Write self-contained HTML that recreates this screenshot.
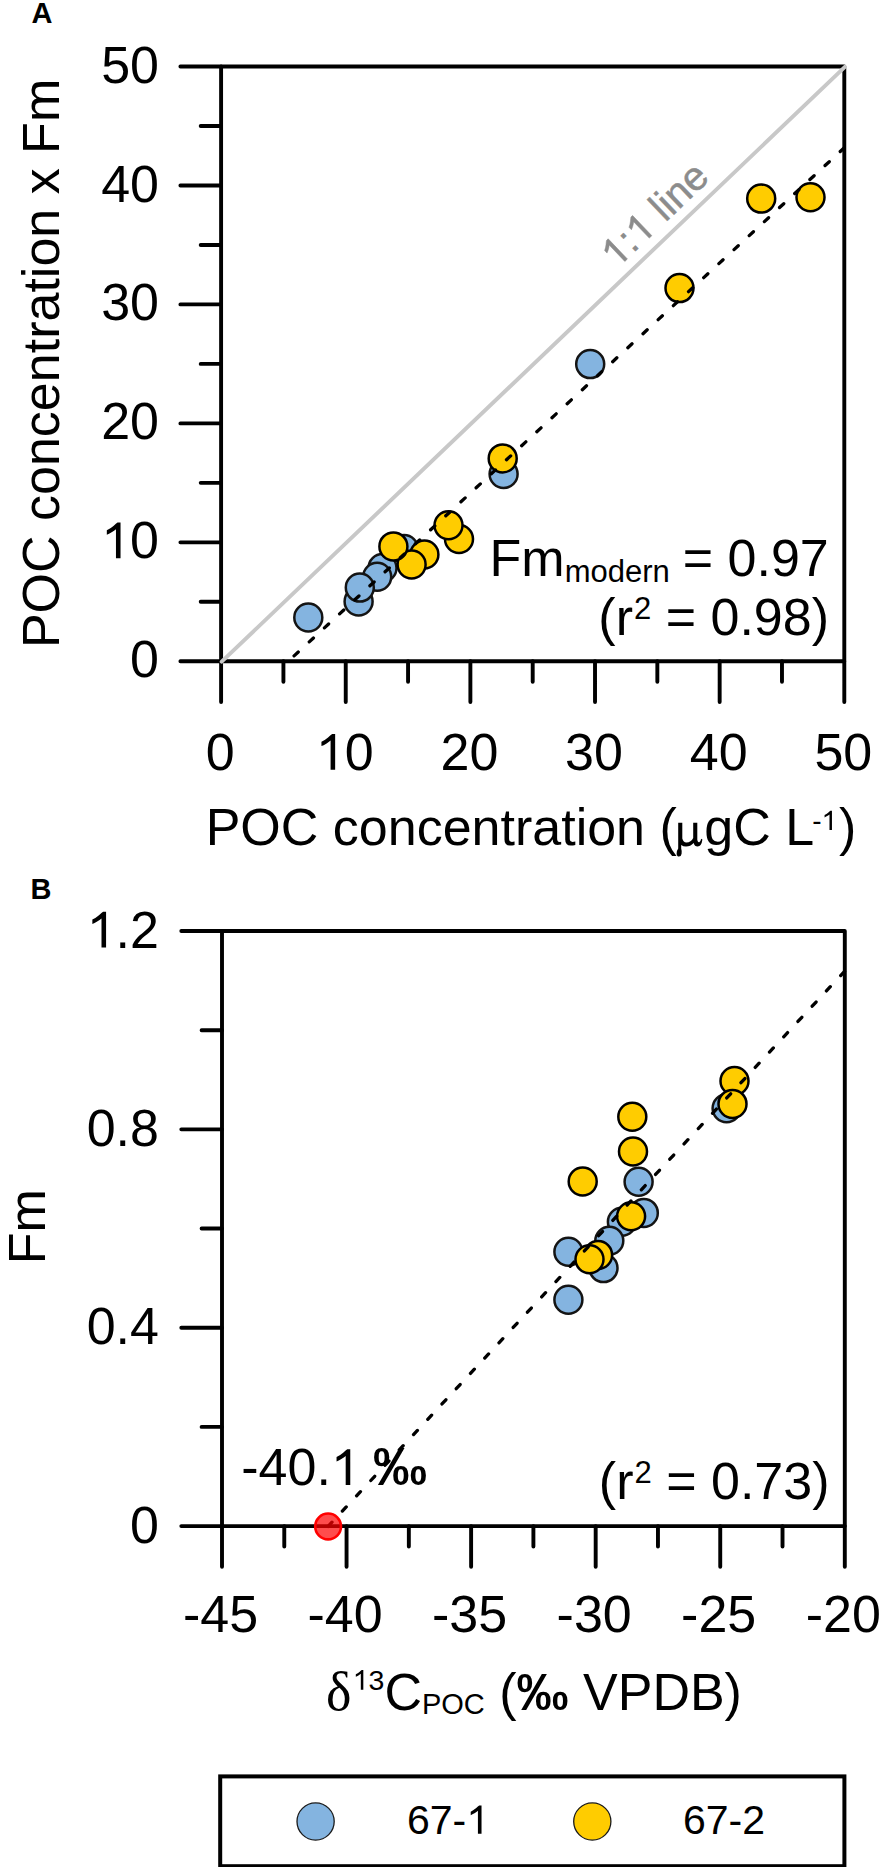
<!DOCTYPE html>
<html><head><meta charset="utf-8"><style>
html,body{margin:0;padding:0;background:#fff;}
body{width:880px;height:1867px;overflow:hidden;}
svg{display:block;}
</style></head><body>
<svg width="880" height="1867" viewBox="0 0 880 1867">
<rect width="880" height="1867" fill="#fff"/>
<path d="M180.40 661.30H221.10 M200.70 601.82H221.10 M180.40 542.34H221.10 M200.70 482.86H221.10 M180.40 423.38H221.10 M200.70 363.90H221.10 M180.40 304.42H221.10 M200.70 244.94H221.10 M180.40 185.46H221.10 M200.70 125.98H221.10 M180.40 66.50H221.10 M221.10 661.30V702.00 M283.42 661.30V681.70 M345.74 661.30V702.00 M408.06 661.30V681.70 M470.38 661.30V702.00 M532.70 661.30V681.70 M595.02 661.30V702.00 M657.34 661.30V681.70 M719.66 661.30V702.00 M781.98 661.30V681.70 M844.30 661.30V702.00" stroke="#000" stroke-width="3.9" stroke-linecap="round" fill="none"/>
<path d="M221.1 661.3V66.5H844.3V661.3Z" stroke="#000" stroke-width="3.9" stroke-linejoin="round" fill="none"/>
<line x1="221.7" y1="661.6999999999999" x2="844.9" y2="66.9" stroke="#c8c8c8" stroke-width="3.9" stroke-linecap="round"/>
<circle cx="590.2" cy="364.1" r="14.0" fill="#84b4e0" stroke="#141414" stroke-width="2.5"/>
<circle cx="503.6" cy="474" r="14.0" fill="#84b4e0" stroke="#141414" stroke-width="2.5"/>
<circle cx="404" cy="549" r="14.0" fill="#84b4e0" stroke="#141414" stroke-width="2.5"/>
<circle cx="382.5" cy="568" r="14.0" fill="#84b4e0" stroke="#141414" stroke-width="2.5"/>
<circle cx="377.2" cy="576.8" r="14.0" fill="#84b4e0" stroke="#141414" stroke-width="2.5"/>
<circle cx="358.6" cy="601.4" r="14.0" fill="#84b4e0" stroke="#141414" stroke-width="2.5"/>
<circle cx="359.8" cy="587.6" r="14.0" fill="#84b4e0" stroke="#141414" stroke-width="2.5"/>
<circle cx="308.3" cy="617.5" r="14.0" fill="#84b4e0" stroke="#141414" stroke-width="2.5"/>
<circle cx="810.5" cy="197.2" r="14.0" fill="#ffcc00" stroke="#000" stroke-width="2.5"/>
<circle cx="761.2" cy="198.6" r="14.0" fill="#ffcc00" stroke="#000" stroke-width="2.5"/>
<circle cx="679.5" cy="288.1" r="14.0" fill="#ffcc00" stroke="#000" stroke-width="2.5"/>
<circle cx="502.7" cy="458.4" r="14.0" fill="#ffcc00" stroke="#000" stroke-width="2.5"/>
<circle cx="459" cy="539" r="14.0" fill="#ffcc00" stroke="#000" stroke-width="2.5"/>
<circle cx="448.5" cy="525.3" r="14.0" fill="#ffcc00" stroke="#000" stroke-width="2.5"/>
<circle cx="424.4" cy="554.5" r="14.0" fill="#ffcc00" stroke="#000" stroke-width="2.5"/>
<circle cx="411.6" cy="564.5" r="14.0" fill="#ffcc00" stroke="#000" stroke-width="2.5"/>
<circle cx="393.4" cy="546.4" r="14.0" fill="#ffcc00" stroke="#000" stroke-width="2.5"/>
<line x1="288.2" y1="661.3" x2="844.3" y2="147.8" stroke="#000" stroke-width="3.3" stroke-dasharray="5.7 14.95" stroke-dashoffset="-8" stroke-linecap="round"/>
<text x="159" y="677.3" font-size="52" text-anchor="end" font-family="Liberation Sans, sans-serif">0</text>
<text x="159" y="558.3" font-size="52" text-anchor="end" font-family="Liberation Sans, sans-serif"> 0</text>
<text x="159" y="439.4" font-size="52" text-anchor="end" font-family="Liberation Sans, sans-serif">20</text>
<text x="159" y="320.4" font-size="52" text-anchor="end" font-family="Liberation Sans, sans-serif">30</text>
<text x="159" y="201.5" font-size="52" text-anchor="end" font-family="Liberation Sans, sans-serif">40</text>
<text x="159" y="82.5" font-size="52" text-anchor="end" font-family="Liberation Sans, sans-serif">50</text>
<text x="220.1" y="769.7" font-size="52" text-anchor="middle" font-family="Liberation Sans, sans-serif">0</text>
<text x="344.7" y="769.7" font-size="52" text-anchor="middle" font-family="Liberation Sans, sans-serif"> 0</text>
<text x="469.4" y="769.7" font-size="52" text-anchor="middle" font-family="Liberation Sans, sans-serif">20</text>
<text x="594.0" y="769.7" font-size="52" text-anchor="middle" font-family="Liberation Sans, sans-serif">30</text>
<text x="718.7" y="769.7" font-size="52" text-anchor="middle" font-family="Liberation Sans, sans-serif">40</text>
<text x="843.3" y="769.7" font-size="52" text-anchor="middle" font-family="Liberation Sans, sans-serif">50</text>
<text x="205.7" y="845.1" font-size="52" font-family="Liberation Sans, sans-serif">POC concentration (<tspan dx="27.55">gC L</tspan><tspan font-size="28" dy="-15" dx="-2">- </tspan><tspan dy="15" dx="2">)</tspan></text>
<path d="M678.2 822.7L682.3 822.7L682.3 838.5Q683.5 842.8 686.5 842.6Q691 842.3 693.2 838L693.2 822.7L697.3 822.7L697.3 840Q698 842.8 699.3 842.2Q700.6 841.5 701.2 838.8L702.4 839.6Q701.5 846.5 697.6 846.6Q694.6 846.6 693.6 843Q690.5 846.6 686 846.6Q683.3 846.6 681.2 845L681.2 848.5Q682 851 681.6 853.8Q681.2 856.6 679 856.6Q676.8 856.6 676.6 853.8Q676.4 851 678.2 848.5Z" fill="#000"/>
<text transform="translate(58.6 363.45) rotate(-90)" font-size="52" text-anchor="middle" font-family="Liberation Sans, sans-serif">POC concentration x Fm</text>
<text x="31.5" y="23.3" font-size="29" font-weight="bold" font-family="Liberation Sans, sans-serif">A</text>
<text transform="translate(616.5 269.4) rotate(-43.66)" font-size="40.5" fill="#8c8c8c" stroke="#8c8c8c" stroke-width="0.5" font-family="Liberation Sans, sans-serif"> :  line</text>
<text x="489.6" y="575.6" font-size="52" font-family="Liberation Sans, sans-serif">Fm<tspan font-size="31" dy="6">modern</tspan><tspan dy="-6" dx="-1.5"> = 0.97</tspan></text>
<text x="829" y="635.3" font-size="52" text-anchor="end" font-family="Liberation Sans, sans-serif">(r<tspan font-size="31" dy="-16" dx="1">2</tspan><tspan dy="16"> = 0.98)</tspan></text>
<path d="M181.30 1526.10H222.00 M201.60 1426.92H222.00 M181.30 1327.73H222.00 M201.60 1228.55H222.00 M181.30 1129.37H222.00 M201.60 1030.18H222.00 M181.30 931.00H222.00 M222.00 1526.10V1566.80 M284.28 1526.10V1546.50 M346.56 1526.10V1566.80 M408.84 1526.10V1546.50 M471.12 1526.10V1566.80 M533.40 1526.10V1546.50 M595.68 1526.10V1566.80 M657.96 1526.10V1546.50 M720.24 1526.10V1566.80 M782.52 1526.10V1546.50 M844.80 1526.10V1566.80" stroke="#000" stroke-width="3.9" stroke-linecap="round" fill="none"/>
<path d="M222.0 1526.1V931.0H844.8V1526.1Z" stroke="#000" stroke-width="3.9" stroke-linejoin="round" fill="none"/>
<circle cx="726.6" cy="1108.3" r="14.0" fill="#84b4e0" stroke="#141414" stroke-width="2.5"/>
<circle cx="643.8" cy="1212.9" r="14.0" fill="#84b4e0" stroke="#141414" stroke-width="2.5"/>
<circle cx="621.9" cy="1221.7" r="14.0" fill="#84b4e0" stroke="#141414" stroke-width="2.5"/>
<circle cx="638.6" cy="1181.8" r="14.0" fill="#84b4e0" stroke="#141414" stroke-width="2.5"/>
<circle cx="609.3" cy="1240.8" r="14.0" fill="#84b4e0" stroke="#141414" stroke-width="2.5"/>
<circle cx="568.4" cy="1251.7" r="14.0" fill="#84b4e0" stroke="#141414" stroke-width="2.5"/>
<circle cx="603.5" cy="1268.1" r="14.0" fill="#84b4e0" stroke="#141414" stroke-width="2.5"/>
<circle cx="568.4" cy="1299.8" r="14.0" fill="#84b4e0" stroke="#141414" stroke-width="2.5"/>
<circle cx="734.5" cy="1081" r="14.0" fill="#ffcc00" stroke="#000" stroke-width="2.5"/>
<circle cx="732.5" cy="1103.9" r="14.0" fill="#ffcc00" stroke="#000" stroke-width="2.5"/>
<circle cx="632.3" cy="1116.7" r="14.0" fill="#ffcc00" stroke="#000" stroke-width="2.5"/>
<circle cx="633" cy="1151.5" r="14.0" fill="#ffcc00" stroke="#000" stroke-width="2.5"/>
<circle cx="582.7" cy="1181.5" r="14.0" fill="#ffcc00" stroke="#000" stroke-width="2.5"/>
<circle cx="631.1" cy="1216.3" r="14.0" fill="#ffcc00" stroke="#000" stroke-width="2.5"/>
<circle cx="598.1" cy="1255" r="14.0" fill="#ffcc00" stroke="#000" stroke-width="2.5"/>
<circle cx="589.5" cy="1259.2" r="14.0" fill="#ffcc00" stroke="#000" stroke-width="2.5"/>
<line x1="328.1" y1="1526.4" x2="844.7" y2="971.25" stroke="#000" stroke-width="3.3" stroke-dasharray="5.7 15.2" stroke-dashoffset="0" stroke-linecap="round"/>
<circle cx="328.1" cy="1526.45" r="12.9" fill="#ff0000" fill-opacity="0.7" stroke="#ff0000" stroke-width="2.6"/>
<text x="159" y="1542.6" font-size="52" text-anchor="end" font-family="Liberation Sans, sans-serif">0</text>
<text x="159" y="1344.2" font-size="52" text-anchor="end" font-family="Liberation Sans, sans-serif">0.4</text>
<text x="159" y="1145.9" font-size="52" text-anchor="end" font-family="Liberation Sans, sans-serif">0.8</text>
<text x="159" y="947.5" font-size="52" text-anchor="end" font-family="Liberation Sans, sans-serif"> .2</text>
<text x="220.5" y="1632.3" font-size="52" text-anchor="middle" font-family="Liberation Sans, sans-serif">-45</text>
<text x="345.1" y="1632.3" font-size="52" text-anchor="middle" font-family="Liberation Sans, sans-serif">-40</text>
<text x="469.6" y="1632.3" font-size="52" text-anchor="middle" font-family="Liberation Sans, sans-serif">-35</text>
<text x="594.2" y="1632.3" font-size="52" text-anchor="middle" font-family="Liberation Sans, sans-serif">-30</text>
<text x="718.7" y="1632.3" font-size="52" text-anchor="middle" font-family="Liberation Sans, sans-serif">-25</text>
<text x="843.3" y="1632.3" font-size="52" text-anchor="middle" font-family="Liberation Sans, sans-serif">-20</text>
<text x="30.5" y="898.8" font-size="29" font-weight="bold" font-family="Liberation Sans, sans-serif">B</text>
<text transform="translate(45.1 1226.6) rotate(-90)" font-size="52" text-anchor="middle" font-family="Liberation Sans, sans-serif">Fm</text>
<text x="241.3" y="1485" font-size="52" font-family="Liberation Sans, sans-serif">-40. <tspan font-weight="bold" font-size="54" dx="13.2">‰</tspan></text>
<text x="829.5" y="1499" font-size="52" text-anchor="end" font-family="Liberation Sans, sans-serif">(r<tspan font-size="31" dy="-16" dx="1">2</tspan><tspan dy="16"> = 0.73)</tspan></text>
<text x="534" y="1710" font-size="52" text-anchor="middle" font-family="Liberation Sans, sans-serif"><tspan font-family="Liberation Serif, serif" font-size="54">δ</tspan><tspan font-size="28.5" dy="-20.3" dx="1.2"> 3</tspan><tspan dy="20.3" dx="0">C</tspan><tspan font-size="29" dy="4">POC</tspan><tspan dy="-4"> (</tspan><tspan font-weight="bold">‰</tspan> VPDB)</text>
<rect x="220.2" y="1776.4" width="624.2" height="89.8" fill="none" stroke="#000" stroke-width="4"/>
<circle cx="315.6" cy="1821.5" r="18.6" fill="#84b4e0" stroke="#1a1a1a" stroke-width="1.3"/>
<circle cx="592.3" cy="1821.5" r="18.6" fill="#ffcc00" stroke="#1a1a1a" stroke-width="1.3"/>
<text x="407" y="1833.8" font-size="41" font-family="Liberation Sans, sans-serif">67- </text>
<text x="683" y="1833.8" font-size="41" font-family="Liberation Sans, sans-serif">67-2</text>
<path transform="translate(101.16 558.30) scale(0.02539 -0.02539)" d="M763 0L583 0L583 1147Q518 1085 411.5 1022.5Q305 960 223 929L223 1103Q371 1173 483 1272.5Q595 1372 646 1409L763 1409Z" fill="rgb(0, 0, 0)"/>
<path transform="translate(315.78 769.70) scale(0.02539 -0.02539)" d="M763 0L583 0L583 1147Q518 1085 411.5 1022.5Q305 960 223 929L223 1103Q371 1173 483 1272.5Q595 1372 646 1409L763 1409Z" fill="rgb(0, 0, 0)"/>
<path transform="translate(821.52 830.10) scale(0.01367 -0.01367)" d="M763 0L583 0L583 1147Q518 1085 411.5 1022.5Q305 960 223 929L223 1103Q371 1173 483 1272.5Q595 1372 646 1409L763 1409Z" fill="rgb(0, 0, 0)"/>
<g transform="translate(616.5 269.4) rotate(-43.66)"><path transform="translate(0.00 0.00) scale(0.01978 -0.01978)" d="M763 0L583 0L583 1147Q518 1085 411.5 1022.5Q305 960 223 929L223 1103Q371 1173 483 1272.5Q595 1372 646 1409L763 1409Z" fill="rgb(140, 140, 140)" stroke="rgb(140, 140, 140)" stroke-width="25.28"/></g>
<g transform="translate(616.5 269.4) rotate(-43.66)"><path transform="translate(33.77 0.00) scale(0.01978 -0.01978)" d="M763 0L583 0L583 1147Q518 1085 411.5 1022.5Q305 960 223 929L223 1103Q371 1173 483 1272.5Q595 1372 646 1409L763 1409Z" fill="rgb(140, 140, 140)" stroke="rgb(140, 140, 140)" stroke-width="25.28"/></g>
<path transform="translate(86.70 947.50) scale(0.02539 -0.02539)" d="M763 0L583 0L583 1147Q518 1085 411.5 1022.5Q305 960 223 929L223 1103Q371 1173 483 1272.5Q595 1372 646 1409L763 1409Z" fill="rgb(0, 0, 0)"/>
<path transform="translate(330.89 1485.00) scale(0.02539 -0.02539)" d="M763 0L583 0L583 1147Q518 1085 411.5 1022.5Q305 960 223 929L223 1103Q371 1173 483 1272.5Q595 1372 646 1409L763 1409Z" fill="rgb(0, 0, 0)"/>
<path transform="translate(352.70 1689.70) scale(0.01392 -0.01392)" d="M763 0L583 0L583 1147Q518 1085 411.5 1022.5Q305 960 223 929L223 1103Q371 1173 483 1272.5Q595 1372 646 1409L763 1409Z" fill="rgb(0, 0, 0)"/>
<path transform="translate(466.25 1833.80) scale(0.02002 -0.02002)" d="M763 0L583 0L583 1147Q518 1085 411.5 1022.5Q305 960 223 929L223 1103Q371 1173 483 1272.5Q595 1372 646 1409L763 1409Z" fill="rgb(0, 0, 0)"/>
</svg></body></html>
